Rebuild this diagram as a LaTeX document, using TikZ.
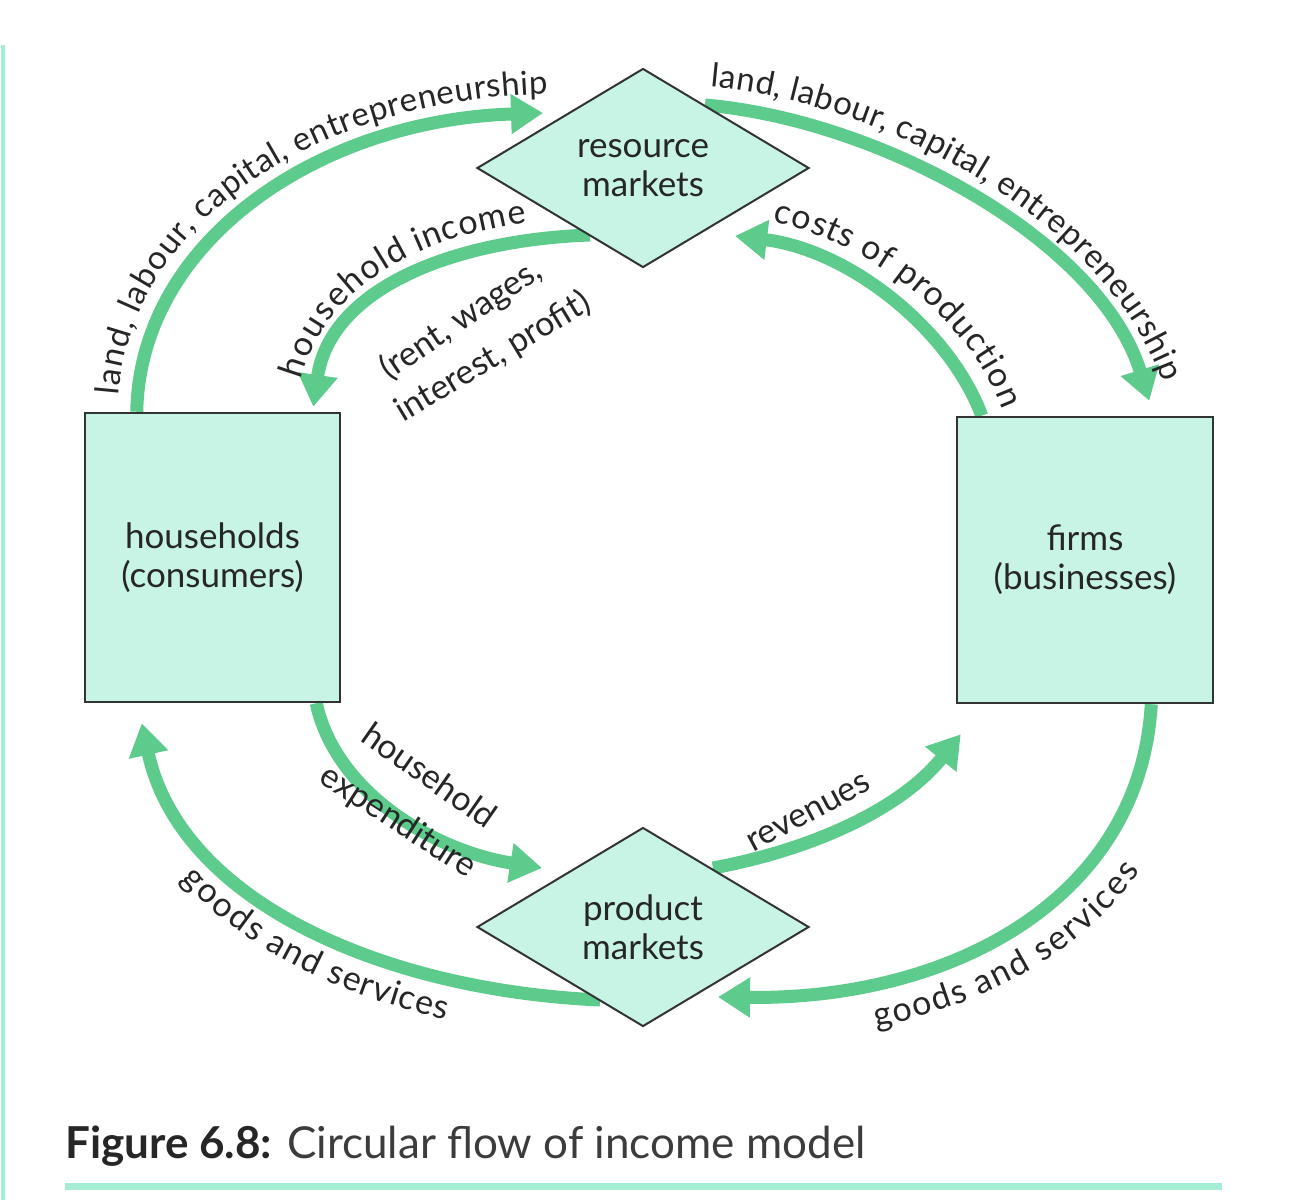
\documentclass[tikz,border=0pt]{standalone}
\usepackage{fontspec}
\setmainfont{Lato}
\usetikzlibrary{arrows.meta,shapes.geometric,decorations.text,calc}
\definecolor{flow}{HTML}{5CCB8B}
\definecolor{mint}{HTML}{C7F4E4}
\definecolor{edgec}{HTML}{333333}
\definecolor{ink}{HTML}{262626}
\definecolor{capink}{HTML}{3C3C3C}
\definecolor{rulec}{HTML}{A5EDD3}
\pgfdeclarelayer{bg}
\pgfsetlayers{bg,main}
\newcommand\lblf{\fontsize{34}{40}\selectfont\color{ink}}
\newcommand\lblg{\fontsize{33}{40}\selectfont\color{ink}}
\newcommand\nodef{\fontsize{35}{39}\selectfont}
\begin{document}
\begin{tikzpicture}[x=1pt,y=-1pt,
  box/.style={draw=edgec,line width=2.5pt,fill=mint,rectangle,minimum width=255pt,minimum height=289pt,inner sep=0pt,align=center,font=\nodef,text=ink},
  mkt/.style={draw=edgec,line width=2pt,fill=mint,diamond,minimum width=332pt,minimum height=199pt,inner sep=0pt,align=center,font=\nodef,text=ink},
  flowarrow/.style={draw=flow,line width=13pt,-{Triangle[width=38pt,length=32pt]}},
  lbl/.style={font=\lblf,text=ink,inner sep=0pt},
  curved/.style={decorate,decoration={text along path,text align=center,raise=#1}},
  curvedl/.style 2 args={decorate,decoration={text along path,text align={left,left indent=#2},raise=#1}},
]
\useasboundingbox (0,0) rectangle (1298,1200);

% nodes
\node[box] (hh) at (212.5,557.5) {households\\(consumers)};
\node[box,minimum width=256pt,minimum height=286pt] (firms) at (1085,560) {firms\\(businesses)};
\node[mkt] (res) at (643,168) {resource\\markets};
\node[mkt] (prod) at (643,927) {product\\markets};

% connector end points
\coordinate (a1s) at ($(hh.north west)+(53,0)$);
\coordinate (a1e) at ($(res.center)+(-100,-55)$);
\coordinate (a2s) at ($(res.center)+(-53,67)$);
\coordinate (a2e) at ($(hh.north east)+(-28,-5)$);
\coordinate (a3s) at ($(res.center)+(62,-63)$);
\coordinate (a3e) at ($(firms.north east)+(-65,-15)$);
\coordinate (a4s) at ($(firms.north west)+(26,0)$);
\coordinate (a4e) at ($(res.center)+(92,68)$);
\coordinate (a5s) at ($(hh.south east)+(-25,0)$);
\coordinate (a5e) at ($(prod.center)+(-101,-59)$);
\coordinate (a6s) at ($(prod.center)+(-43,73)$);
\coordinate (a6e) at ($(hh.south west)+(58,20)$);
\coordinate (a7s) at ($(prod.center)+(70,-59)$);
\coordinate (a7e) at ($(firms.south west)+(5,30)$);
\coordinate (a8s) at ($(firms.south east)+(-63,0)$);
\coordinate (a8e) at ($(prod.center)+(75,70)$);

\begin{pgfonlayer}{bg}
\fill[white] (0,0) rectangle (1298,1200);
\draw[flowarrow] (a1s) .. controls (140,240) and (320,120) .. (a1e);
\draw[flowarrow] (a2s) .. controls (450,240) and (330,290) .. (a2e);
\draw[flowarrow] (a3s) .. controls (880,120) and (1100,240) .. (a3e);
\draw[flowarrow] (a4s) .. controls (950,330) and (850,250) .. (a4e);
\draw[flowarrow] (a5s) .. controls (335,790) and (430,850) .. (a5e);
\draw[flowarrow] (a6s) .. controls (380,990) and (180,900) .. (a6e);
\draw[flowarrow] (a7s) .. controls (810,850) and (900,810) .. (a7e);
\draw[flowarrow] (a8s) .. controls (1140,900) and (950,1000) .. (a8e);
\end{pgfonlayer}

% labels that follow the connectors
\path[curved=19pt,decoration={text={|\lblg|land, labour, capital, entrepreneurship}}]
  ($(a1s)+(0,20)$) -- (a1s) .. controls (140,240) and (320,120) .. (a1e) -- ++(40,-1);
\path[curvedl={18pt}{22pt},decoration={text={|\lblf|household income}}]
  (a2e) .. controls (330,290) and (450,240) .. (a2s);
\path[curved=19pt,decoration={text={|\lblg|land, labour, capital, entrepreneurship}}]
  ($(a3s)+(-34,-3)$) -- (a3s) .. controls (880,120) and (1100,240) .. (a3e) -- ++(4,25);
\path[curvedl={21pt}{33pt},decoration={text={|\lblf|costs of production}}]
  (a4e) .. controls (850,250) and (950,330) .. (a4s);
\path[curved=-40pt,decoration={text={|\lblf|goods and services}}]
  (a6e) .. controls (180,900) and (380,990) .. (a6s);
\path[curved=-45pt,decoration={text={|\lblf|goods and services}}]
  (a8e) .. controls (950,1000) and (1140,900) .. (a8s);

% straight labels
\node[lbl,rotate=34] (rw) at (461,320) {(rent, wages,};
\node[lbl,rotate=31] (ip) at (493,357) {interest, profit)};
\node[lbl,rotate=-35] (hhl) at (430,775) {household};
\node[lbl,rotate=-33] (exl) at (398,822) {expenditure};
\node[lbl,rotate=28] (rev) at (809,813) {revenues};

% caption
\node[anchor=base west,inner sep=0pt,font=\fontsize{44}{50}\selectfont,text=capink] (cap) at (65,1158)
  {\textbf{\color{ink}Figure 6.8:} Circular flow of income model};
\draw[rulec,line width=7pt] (65,1186) -- (1222,1186);
\draw[rulec,line width=4pt] (3,45) -- (3,1200);
\end{tikzpicture}
\end{document}
